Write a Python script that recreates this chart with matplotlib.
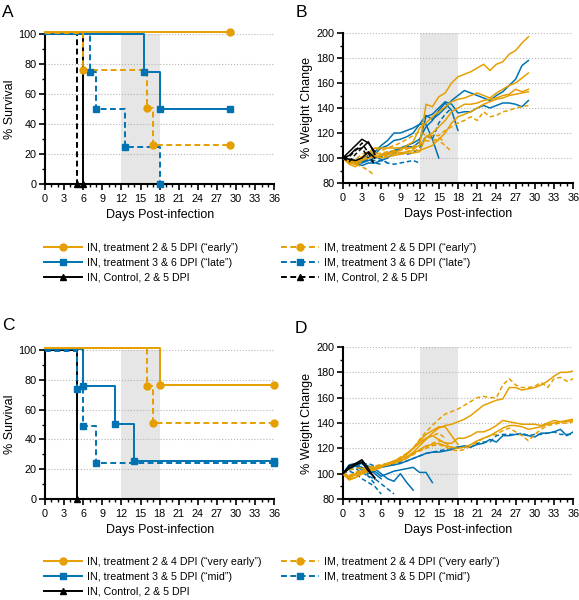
import numpy as np
import matplotlib.pyplot as plt
from matplotlib.ticker import MultipleLocator
from matplotlib.lines import Line2D

plt.rcParams['font.family'] = ['Liberation Sans', 'DejaVu Sans']

ORANGE = '#E69F00'
BLUE = '#0072B2'
BLACK = '#000000'
DASH = (0, (3, 1.8))

# ---- survival data (days, % survival) ----
# panel A
a_in_early_t = [0, 29]
a_in_early_s = [100, 100]
a_im_early_t = [0, 6, 16, 17, 29]
a_im_early_s = [100, 75, 50, 25, 25]
a_in_late_t = [0, 15.5, 18, 29]
a_in_late_s = [100, 75, 50, 50]
a_im_late_t = [0, 7, 8, 12.5, 18]
a_im_late_s = [100, 75, 50, 25, 0]
a_in_ctrl_t = [0, 6]
a_in_ctrl_s = [100, 0]
a_im_ctrl_t = [0, 5]
a_im_ctrl_s = [100, 0]

# panel C
c_in_vearly_t = [0, 18, 36]
c_in_vearly_s = [100, 75, 75]
c_im_vearly_t = [0, 16, 17, 36]
c_im_vearly_s = [100, 75, 50, 50]
c_in_mid_t = [0, 6, 11, 14, 36]
c_in_mid_s = [100, 75, 50, 25, 25]
c_im_mid_t = [0, 5, 6, 8, 36]
c_im_mid_s = [100, 75, 50, 25, 25]
c_in_ctrl_t = [0, 5]
c_in_ctrl_s = [100, 0]

# ---- weight data (% of day 0, one value per day from day 0) ----
# panel B
b_in_early = [
    [100, 96, 95, 100, 104, 108, 108, 108, 108, 108, 108, 108, 110, 143, 141, 149, 152, 160, 165, 167,
     169, 172, 175, 170, 175, 177, 183, 186, 192, 197],
    [100, 97, 96, 101, 103, 104, 103, 104, 105, 106, 110, 113, 124, 128, 133, 137, 141, 145, 147, 148,
     150, 152, 150, 148, 152, 155, 158, 160, 164, 168],
    [100, 95, 93, 98, 100, 102, 100, 101, 102, 103, 104, 104, 105, 117, 120, 125, 130, 137, 140, 143,
     143, 144, 146, 147, 148, 150, 151, 155, 153, 155],
    [100, 98, 97, 99, 100, 101, 102, 103, 104, 104, 105, 106, 106, 108, 110, 115, 120, 128, 133, 135,
     137, 140, 143, 145, 147, 148, 150, 151, 152, 153],
]
b_im_early = [
    [100, 97, 95, 93, 90, 86],
    [100, 99, 98, 100, 104, 108, 106, 108, 110, 112, 115, 118, 121, 118, 115, 114, 110, 105],
    [100, 98, 99, 103, 105, 103, 104, 105, 106, 106, 107, 109, 112, 114, 113, 116, 113],
    [100, 97, 96, 99, 101, 100, 101, 102, 103, 104, 105, 107, 110, 117, 118, 118, 122, 125, 128, 130,
     133, 130, 137, 133, 134, 137, 138, 140, 141, 142],
]
b_in_late = [
    [100, 98, 95, 97, 100, 103, 108, 110, 114, 115, 117, 120, 127, 134, 131, 135, 140, 146, 150, 154,
     152, 150, 148, 146, 150, 153, 158, 163, 174, 178],
    [100, 97, 96, 94, 96, 96, 98, 100, 104, 108, 109, 109, 113, 133, 135, 140, 145, 143, 136, 137,
     137, 140, 142, 140, 142, 144, 144, 143, 141, 146],
    [100, 98, 96, 97, 100, 105, 110, 114, 120, 120, 122, 124, 127, 127, 115, 100],
    [100, 99, 97, 96, 98, 100, 102, 104, 106, 108, 110, 112, 115, 125, 130, 138, 144, 138, 122],
]
b_im_late = [
    [100, 98, 95, 97, 99, 96, 95],
    [100, 99, 97, 98, 100, 101, 99, 96],
    [100, 98, 96, 97, 98, 98, 98, 96, 95, 96, 97, 98, 96],
    [100, 99, 98, 100, 102, 101, 101, 103, 104, 104, 103, 104, 108, 118, 115, 128, 135, 140],
]
b_in_ctrl = [
    [100, 105, 110, 115, 112, 105],
    [100, 102, 107, 108, 113, 103],
    [100, 99, 98, 100, 105, 100],
]
b_im_ctrl = [
    [100, 97, 103, 108, 100],
    [100, 101, 106, 112, 104, 94],
]

# panel D
d_in_vearly = [
    [100, 95, 97, 100, 102, 103, 105, 108, 109, 110, 113, 117, 122, 127, 132, 136, 138, 139, 141, 143,
     146, 150, 154, 156, 158, 159, 168, 168, 166, 167, 168, 170, 173, 177, 180, 180, 181],
    [100, 97, 99, 101, 103, 104, 106, 108, 110, 112, 116, 120, 124, 128, 130, 127, 124, 124, 128, 128,
     130, 133, 133, 135, 138, 142, 141, 140, 139, 139, 139, 138, 140, 142, 141, 142, 143],
    [100, 98, 100, 102, 104, 105, 106, 107, 109, 110, 112, 116, 119, 122, 123, 124, 122, 121, 120, 121,
     123, 126, 128, 130, 133, 136, 138, 138, 137, 135, 136, 137, 139, 140, 141, 141, 142],
    [100, 96, 97, 100, 102, 104, 106, 108, 110, 112, 115, 120, 126, 131, 134, 137, 137, 130, 123],
]
d_im_vearly = [
    [100, 97, 100, 104, 105, 106, 107, 108, 109, 111, 115, 120, 127, 133, 138, 143, 147, 149, 151, 154,
     157, 160, 161, 160, 160, 170, 175, 170, 168, 168, 169, 172, 168, 175, 176, 173, 175],
    [100, 103, 104, 105, 104, 103, 105, 107, 109, 111, 113, 115, 118, 120, 122, 123, 121, 119, 118, 119,
     122, 125, 128, 130, 131, 134, 136, 133, 130, 126, 131, 135, 138, 139, 140, 140, 141],
    [100, 98, 101, 103, 104, 106, 107, 108, 110, 113, 116, 120, 125, 128, 130, 132, 128],
    [100, 99, 100, 101, 103, 104, 106, 107, 108, 110, 113, 116, 118, 121, 124, 126, 125, 120],
]
d_in_mid = [
    [100, 106, 107, 108, 106, 104, 105, 106, 107, 108, 110, 112, 114, 116, 117, 117, 118, 119, 121, 122,
     121, 123, 124, 127, 125, 130, 130, 131, 131, 130, 129, 132, 132, 133, 135, 130, 133],
    [100, 104, 106, 103, 100, 102, 98, 100, 102, 103, 104, 105, 101, 101, 93],
    [100, 105, 107, 105, 103, 104, 100, 96, 94, 100, 93, 87],
    [100, 107, 108, 110, 105, 100, 96],
]
d_im_mid = [
    [100, 104, 106, 107, 108, 106, 106, 107, 107, 109, 110, 112, 114, 116, 117, 118, 119, 120, 121, 121,
     121, 124, 125, 125, 130, 131, 131, 131, 132, 130, 131, 131, 132, 133, 131, 131, 131],
    [100, 103, 104, 101, 98, 96, 92, 88, 84],
    [100, 102, 100, 96, 93, 90, 84],
    [100, 104, 106, 104, 98, 92],
]
d_in_ctrl = [
    [100, 106, 108, 111, 104, 96],
    [100, 104, 107, 109, 102, 97],
]


def style_axes(ax, ylo, yhi, ystep, ylabel):
    ax.axvspan(12, 18, color='#e6e6e6', lw=0, zorder=0)
    ax.set_xlim(0, 36)
    ax.set_ylim(ylo, yhi)
    ax.xaxis.set_major_locator(MultipleLocator(3))
    ax.xaxis.set_minor_locator(MultipleLocator(1))
    ax.yaxis.set_major_locator(MultipleLocator(ystep))
    ax.yaxis.set_minor_locator(MultipleLocator(ystep / 2))
    ax.grid(axis='y', which='major', ls=':', color='#b5b5b5', lw=0.8)
    ax.set_axisbelow(True)
    for side in ['top', 'right']:
        ax.spines[side].set_visible(False)
    for side in ['left', 'bottom']:
        ax.spines[side].set_linewidth(1.5)
    ax.tick_params(which='major', length=4, width=1.2, labelsize=7.8, pad=2)
    ax.tick_params(axis='x', which='major', pad=3)
    ax.tick_params(which='minor', length=2.5, width=1.0)
    ax.set_xlabel('Days Post-infection', fontsize=9, labelpad=4)
    ax.set_ylabel(ylabel, fontsize=9, labelpad=2)


def km(ax, t, s, color, ls, marker, nudge=0):
    s = np.array(s, dtype=float) + nudge
    ax.step(t, s, where='post', color=color, ls=ls, lw=1.4, clip_on=False, zorder=3)
    ax.plot(t[1:], s[1:], ls='none', marker=marker, color=color, ms=5,
            clip_on=False, zorder=4)


def weights(ax, curves, color, ls):
    for v in curves:
        ax.plot(range(len(v)), v, color=color, ls=ls, lw=1.1, zorder=3)


fig = plt.figure(figsize=(5.79, 6.0), dpi=100)
axA = fig.add_axes([0.0777, 0.693, 0.396, 0.250])
axB = fig.add_axes([0.592, 0.695, 0.398, 0.250])
axC = fig.add_axes([0.0777, 0.1683, 0.396, 0.2484])
axD = fig.add_axes([0.592, 0.1683, 0.398, 0.2534])

# A
style_axes(axA, 0, 100, 20, '% Survival')
km(axA, a_im_ctrl_t, a_im_ctrl_s, BLACK, DASH, '^')
km(axA, a_in_ctrl_t, a_in_ctrl_s, BLACK, '-', '^')
km(axA, a_im_late_t, a_im_late_s, BLUE, DASH, 's')
km(axA, a_in_late_t, a_in_late_s, BLUE, '-', 's')
km(axA, a_im_early_t, a_im_early_s, ORANGE, DASH, 'o', nudge=1)
km(axA, a_in_early_t, a_in_early_s, ORANGE, '-', 'o', nudge=1.5)

# B
style_axes(axB, 80, 200, 20, '% Weight Change')
weights(axB, b_im_late, BLUE, DASH)
weights(axB, b_in_late, BLUE, '-')
weights(axB, b_im_early, ORANGE, DASH)
weights(axB, b_in_early, ORANGE, '-')
weights(axB, b_in_ctrl, BLACK, '-')
weights(axB, b_im_ctrl, BLACK, DASH)

# C
style_axes(axC, 0, 100, 20, '% Survival')
km(axC, c_in_ctrl_t, c_in_ctrl_s, BLACK, '-', '^')
km(axC, c_im_mid_t, c_im_mid_s, BLUE, DASH, 's', nudge=-1)
km(axC, c_in_mid_t, c_in_mid_s, BLUE, '-', 's', nudge=0.5)
km(axC, c_im_vearly_t, c_im_vearly_s, ORANGE, DASH, 'o', nudge=1)
km(axC, c_in_vearly_t, c_in_vearly_s, ORANGE, '-', 'o', nudge=1.5)

# D
style_axes(axD, 80, 200, 20, '% Weight Change')
weights(axD, d_im_mid, BLUE, DASH)
weights(axD, d_in_mid, BLUE, '-')
weights(axD, d_im_vearly, ORANGE, DASH)
weights(axD, d_in_vearly, ORANGE, '-')
weights(axD, d_in_ctrl, BLACK, '-')

# panel letters
for x, y, letter in [(2, 5, 'A'), (296, 5, 'B'), (2, 318, 'C'), (295, 321, 'D')]:
    fig.text(x / 579, 1 - y / 600, letter, fontsize=12.5, va='top', ha='left')


def handle(color, ls, marker):
    return Line2D([], [], color=color, ls=ls, lw=1.4, marker=marker, ms=5)


def add_legend(items, x_px, y_px):
    hs = [handle(c, ls, m) for c, ls, m, _ in items]
    labels = [lab for _, _, _, lab in items]
    fig.legend(hs, labels, loc='upper left', bbox_to_anchor=(x_px / 579, 1 - y_px / 600),
               frameon=False, fontsize=7.65, handlelength=3.6, handletextpad=0.47,
               labelspacing=0.45, borderpad=0, borderaxespad=0)


add_legend([(ORANGE, '-', 'o', 'IN, treatment 2 & 5 DPI (\u201cearly\u201d)'),
            (BLUE, '-', 's', 'IN, treatment 3 & 6 DPI (\u201clate\u201d)'),
            (BLACK, '-', '^', 'IN, Control, 2 & 5 DPI')], 44, 243)
add_legend([(ORANGE, DASH, 'o', 'IM, treatment 2 & 5 DPI (\u201cearly\u201d)'),
            (BLUE, DASH, 's', 'IM, treatment 3 & 6 DPI (\u201clate\u201d)'),
            (BLACK, DASH, '^', 'IM, Control, 2 & 5 DPI')], 281, 243)
add_legend([(ORANGE, '-', 'o', 'IN, treatment 2 & 4 DPI (\u201cvery early\u201d)'),
            (BLUE, '-', 's', 'IN, treatment 3 & 5 DPI (\u201cmid\u201d)'),
            (BLACK, '-', '^', 'IN, Control, 2 & 5 DPI')], 44, 557)
add_legend([(ORANGE, DASH, 'o', 'IM, treatment 2 & 4 DPI (\u201cvery early\u201d)'),
            (BLUE, DASH, 's', 'IM, treatment 3 & 5 DPI (\u201cmid\u201d)')], 281, 557)

fig.savefig('out.png', dpi=100)
